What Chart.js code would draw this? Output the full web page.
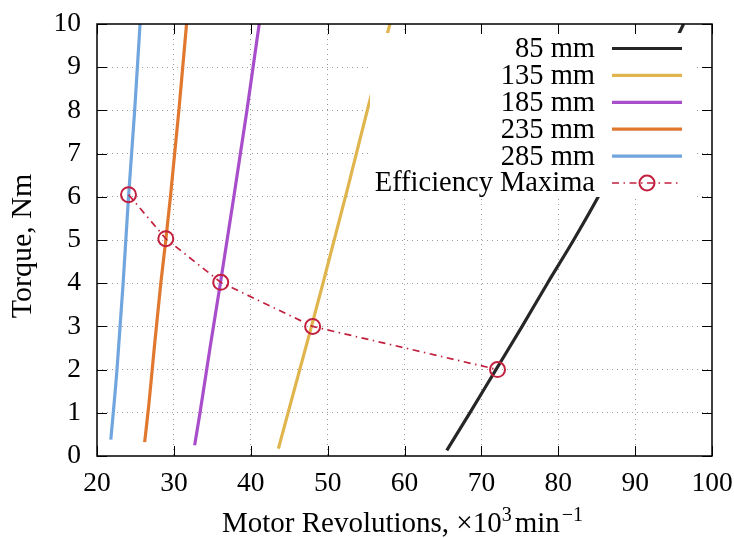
<!DOCTYPE html>
<html><head><meta charset="utf-8">
<script src="https://cdn.jsdelivr.net/npm/chart.js@4/dist/chart.umd.min.js"></script>
<style>html,body{margin:0;padding:0;background:#fff}</style>
</head><body>
<canvas id="c" width="734" height="538"></canvas>
<script>
// ---- data ----
const xTickValues = [20, 30, 40, 50, 60, 70, 80, 90, 100];
const yTickValues = [0, 1, 2, 3, 4, 5, 6, 7, 8, 9, 10];
const seriesLabels = ['85 mm', '135 mm', '185 mm', '235 mm', '285 mm', 'Efficiency Maxima'];
const xTitle = ['Motor Revolutions, ', '\u00d710', '3', 'min', '\u22121'];
const yTitle = 'Torque, Nm';

const rev85 = [65.5, 68.5, 71.9, 75.3, 78.6, 82.0, 85.2, 88.1, 90.9, 93.6, 96.3];
const torque85 = [0.13, 1, 2, 3, 4, 5, 6, 7, 8, 9, 10];
const rev135 = [43.6, 44.85, 47.9, 49.4, 52.75, 55.3, 58.1];
const torque135 = [0.17, 1, 3, 4, 6.3, 8.1, 10];
const rev185 = [32.7, 33.4, 34.7, 36.05, 37.8, 39.5, 40.3, 41.1];
const torque185 = [0.25, 1, 2.5, 4, 6, 8, 9, 10];
const rev235 = [26.2, 26.75, 27.45, 28.3, 28.95, 29.55, 30.1, 30.65, 31.15, 31.65];
const torque235 = [0.32, 1.2, 2.5, 4, 5, 6, 7, 8, 9, 10];
const rev285 = [21.8, 22.6, 23.4, 24.1, 24.9, 25.6];
const torque285 = [0.38, 2, 4, 6, 8, 10];
const revEff = [24.1, 28.95, 36.1, 48.05, 72.1];
const torqueEff = [6.05, 5.03, 4.02, 3.0, 2.0];

const seriesColors = ['#262626', '#e1b54e', '#a94ecb', '#e0782f', '#70a5de', '#c2203f'];

const FONT = '"Liberation Serif", "Times New Roman", serif';
const pts = (xs, ys) => xs.map((x, i) => ({ x: x, y: ys[i] }));
const curve = (i, xs, ys) => ({
  label: seriesLabels[i], data: pts(xs, ys), showLine: true,
  borderColor: seriesColors[i], borderWidth: 3.2, pointRadius: 0,
  cubicInterpolationMode: 'monotone', order: 2
});
const EFF_DASH = [7, 4.5, 1.5, 4.5];

const overlay = {
  id: 'overlay',
  afterDraw(chart) {
    const ctx = chart.ctx, a = chart.chartArea;
    const xs = chart.scales.x, ys = chart.scales.y;
    ctx.save();
    // opaque key box
    ctx.fillStyle = '#fff';
    ctx.fillRect(a.left + 273, a.top + 9, 327, 164);
    // key entries
    ctx.font = '28.5px ' + FONT;
    ctx.textAlign = 'right';
    ctx.textBaseline = 'middle';
    for (let i = 0; i < seriesLabels.length; i++) {
      const y = a.top + 24.5 + i * 26.9;
      ctx.fillStyle = '#000';
      ctx.fillText(seriesLabels[i], a.right - 117, y + 1);
      const x0 = a.right - 100, x1 = a.right - 30;
      ctx.strokeStyle = seriesColors[i];
      if (i < 5) {
        ctx.lineWidth = 3.2; ctx.setLineDash([]);
        ctx.beginPath(); ctx.moveTo(x0, y); ctx.lineTo(x1, y); ctx.stroke();
      } else {
        ctx.lineWidth = 1.7; ctx.setLineDash(EFF_DASH);
        ctx.beginPath(); ctx.moveTo(x0, y); ctx.lineTo(x1, y); ctx.stroke();
        ctx.setLineDash([]);
        ctx.lineWidth = 2;
        ctx.beginPath(); ctx.arc((x0 + x1) / 2, y, 7.5, 0, Math.PI * 2); ctx.stroke();
      }
    }
    // border
    ctx.setLineDash([]);
    ctx.strokeStyle = '#000';
    ctx.lineWidth = 1.5;
    ctx.strokeRect(a.left, a.top, a.right - a.left, a.bottom - a.top);
    // inward ticks on all four sides
    ctx.lineWidth = 1;
    const TL = 10;
    ctx.beginPath();
    xTickValues.forEach(v => {
      const px = Math.round(xs.getPixelForValue(v)) + 0.5;
      ctx.moveTo(px, a.bottom); ctx.lineTo(px, a.bottom - TL);
      ctx.moveTo(px, a.top); ctx.lineTo(px, a.top + TL);
    });
    yTickValues.forEach(v => {
      const py = Math.round(ys.getPixelForValue(v)) + 0.5;
      ctx.moveTo(a.left, py); ctx.lineTo(a.left + TL, py);
      ctx.moveTo(a.right, py); ctx.lineTo(a.right - TL, py);
    });
    ctx.stroke();
    // x axis title with superscripts
    const parts = [[xTitle[0], 29, 0, 0], [xTitle[1], 29, 0, 0], [xTitle[2], 20, -11, 3], [xTitle[3], 29, 0, 2], [xTitle[4], 20, -11, 0]];
    let w = 0;
    parts.forEach(p => { ctx.font = p[1] + 'px ' + FONT; w += ctx.measureText(p[0]).width + p[3]; });
    let x = (a.left + a.right) / 2 - w / 2 - 2;
    const base = 532;
    ctx.fillStyle = '#000';
    ctx.textAlign = 'left';
    ctx.textBaseline = 'alphabetic';
    parts.forEach(p => {
      ctx.font = p[1] + 'px ' + FONT;
      ctx.fillText(p[0], x, base + p[2]);
      x += ctx.measureText(p[0]).width + p[3];
    });
    // y axis title
    ctx.save();
    ctx.translate(23, (a.top + a.bottom) / 2 + 6);
    ctx.rotate(-Math.PI / 2);
    ctx.font = '30px ' + FONT;
    ctx.textAlign = 'center';
    ctx.textBaseline = 'middle';
    ctx.fillText(yTitle, 0, 0);
    ctx.restore();
    ctx.restore();
  }
};

const gridColor = (edgeA, edgeB) => c => (c.tick && (c.tick.value === edgeA || c.tick.value === edgeB)) ? 'rgba(0,0,0,0)' : '#9a9a9a';

new Chart(document.getElementById('c'), {
  type: 'scatter',
  data: {
    datasets: [
      {
        label: seriesLabels[5], data: pts(revEff, torqueEff), showLine: true,
        borderColor: seriesColors[5], borderWidth: 1.7, borderDash: EFF_DASH,
        pointRadius: 7.5, pointBorderWidth: 2, pointBorderColor: seriesColors[5],
        pointBackgroundColor: 'rgba(0,0,0,0)', tension: 0, order: 0
      },
      curve(0, rev85, torque85),
      curve(1, rev135, torque135),
      curve(2, rev185, torque185),
      curve(3, rev235, torque235),
      curve(4, rev285, torque285)
    ]
  },
  options: {
    responsive: false,
    animation: false,
    devicePixelRatio: 1,
    layout: { padding: { left: 0, right: 22, top: 24, bottom: 0 } },
    plugins: { legend: { display: false }, tooltip: { enabled: false } },
    scales: {
      x: {
        type: 'linear', min: 20, max: 100,
        afterBuildTicks: s => { s.ticks = xTickValues.map(v => ({ value: v })); },
        afterFit: s => { s.height = 82; s.paddingLeft = 0; s.paddingRight = 0; },
        grid: { color: gridColor(20, 100), lineWidth: 1, drawTicks: false },
        border: { display: false, dash: [1, 4] },
        ticks: { color: '#000', padding: 11, maxRotation: 0, font: { family: FONT, size: 27.5 } }
      },
      y: {
        type: 'linear', min: 0, max: 10,
        afterBuildTicks: s => { s.ticks = yTickValues.map(v => ({ value: v })); },
        afterFit: s => { s.width = 97; s.paddingTop = 0; s.paddingBottom = 0; },
        grid: { color: gridColor(0, 10), lineWidth: 1, drawTicks: false },
        border: { display: false, dash: [1, 4] },
        ticks: { color: '#000', padding: 16, font: { family: FONT, size: 27.5 } }
      }
    }
  },
  plugins: [overlay]
});
</script>
</body></html>
